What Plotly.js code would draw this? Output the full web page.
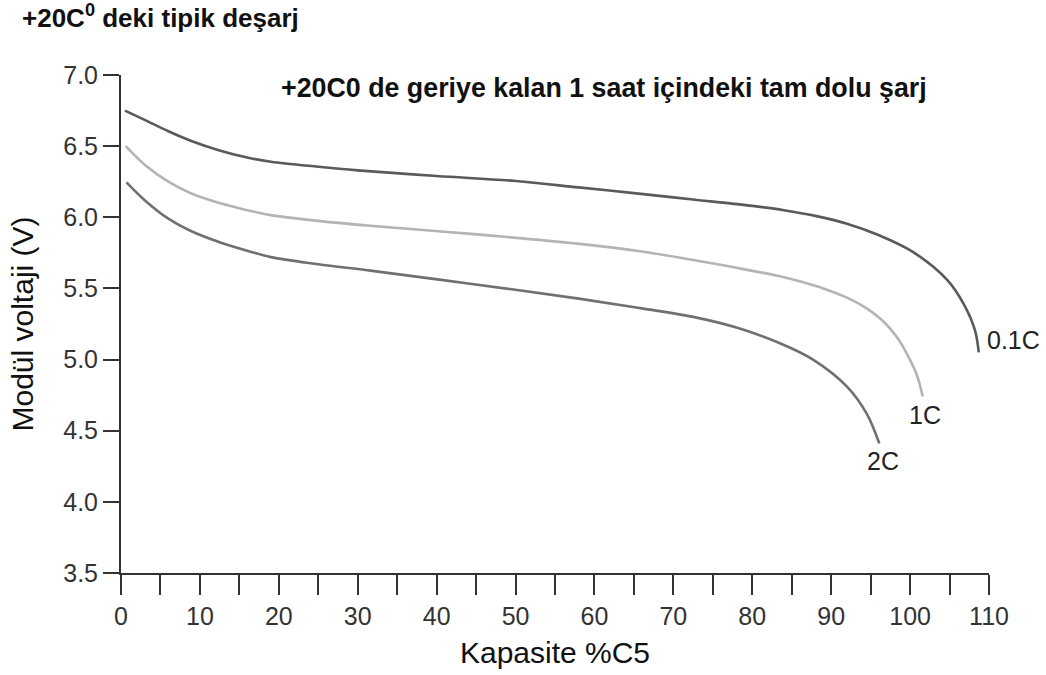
<!DOCTYPE html>
<html>
<head>
<meta charset="utf-8">
<script src="https://cdn.plot.ly/plotly-3.0.1.min.js"></script>
<style>html,body{margin:0;padding:0;background:#fff;}#chart{width:1046px;height:675px;}</style>
</head>
<body>
<div id="chart"></div>
<script>
// Capacity (%C5) and module voltage (V) for each discharge rate
const x01C = [0.5, 3, 6, 9, 12.5, 16, 19, 25, 30, 40, 50, 58, 65, 72.5, 80, 84, 88, 92, 96, 100.4, 104.7, 106.8, 108.2, 108.7];
const y01C = [6.75, 6.685, 6.605, 6.535, 6.47, 6.42, 6.39, 6.355, 6.33, 6.29, 6.255, 6.21, 6.17, 6.125, 6.08, 6.05, 6.01, 5.955, 5.875, 5.755, 5.56, 5.39, 5.21, 5.05];

const x1C = [0.6, 3, 6, 9, 12.5, 16, 19, 25, 31.6, 44, 57.8, 66, 72.5, 78, 83.5, 86, 89, 92, 94.5, 96.5, 98.3, 99.7, 100.8, 101.6];
const y1C = [6.50, 6.37, 6.25, 6.165, 6.10, 6.05, 6.015, 5.975, 5.94, 5.885, 5.815, 5.76, 5.70, 5.645, 5.585, 5.55, 5.50, 5.435, 5.36, 5.275, 5.16, 5.03, 4.90, 4.74];

const x2C = [0.7, 3, 6, 9, 12.5, 16, 19, 25, 31.6, 44, 57.8, 66, 72.5, 78, 83.5, 87.7, 92, 94.5, 96.1];
const y2C = [6.245, 6.12, 5.99, 5.90, 5.825, 5.765, 5.72, 5.67, 5.625, 5.535, 5.43, 5.36, 5.30, 5.225, 5.115, 5.0, 4.81, 4.62, 4.41];

const seriesNames = ['0.1C', '1C', '2C'];
const seriesColors = ['#5a5a5a', '#b4b4b4', '#707070'];
// label anchor positions (data coords) for curve labels
const labelX = [109.5, 101.9, 96.6];
const labelY = [5.14, 4.61, 4.29];

const xTickVals = [0, 10, 20, 30, 40, 50, 60, 70, 80, 90, 100, 110];
const xMinorStep = 5;
const yTickVals = [3.5, 4.0, 4.5, 5.0, 5.5, 6.0, 6.5, 7.0];

const chartTitle = '+20C<sup>0</sup> deki tipik deşarj';
const noteText = '+20C0 de geriye kalan 1 saat içindeki tam dolu şarj';
const xTitle = 'Kapasite %C5';
const yTitle = 'Modül voltaji (V)';

const xs = [x01C, x1C, x2C];
const ys = [y01C, y1C, y2C];

const traces = seriesNames.map((n, i) => ({
  x: xs[i], y: ys[i], name: n, type: 'scatter', mode: 'lines',
  line: {color: seriesColors[i], width: 2.6, shape: 'spline', smoothing: 1},
  hoverinfo: 'x+y+name'
}));

const FONT = '"Liberation Sans", Arial, sans-serif';

const annotations = seriesNames.map((n, i) => ({
  x: labelX[i], y: labelY[i], xref: 'x', yref: 'y',
  text: n, showarrow: false,
  xanchor: i === 0 ? 'left' : 'center', yanchor: 'middle',
  font: {family: FONT, size: 25, color: '#222'}
}));
annotations.push({
  x: (279 - 121) / 868, y: (573 - 88) / 498, xref: 'paper', yref: 'paper',
  text: noteText, showarrow: false, xanchor: 'left', yanchor: 'middle',
  font: {family: FONT, size: 26.8, color: '#111', weight: 'bold'}
});

const layout = {
  width: 1046, height: 675,
  paper_bgcolor: '#fff', plot_bgcolor: '#fff',
  margin: {l: 121, r: 57, t: 75, b: 102, pad: 0},
  showlegend: false,
  font: {family: FONT, color: '#333'},
  title: {
    text: chartTitle, x: 22 / 1046, xref: 'container', xanchor: 'left',
    y: 1 - 18 / 675, yref: 'container', yanchor: 'middle',
    font: {family: FONT, size: 26, color: '#111', weight: 'bold'}
  },
  xaxis: {
    range: [0, 110], tickmode: 'array', tickvals: xTickVals,
    ticks: 'outside', ticklen: 20, tickwidth: 2, tickcolor: '#333',
    minor: {dtick: xMinorStep, tick0: 0, ticks: 'outside', ticklen: 20, tickwidth: 2, tickcolor: '#333', showgrid: false},
    showline: true, linecolor: '#333', linewidth: 2, showgrid: false, zeroline: false,
    tickfont: {family: FONT, size: 25, color: '#333'},
    title: {text: xTitle, font: {family: FONT, size: 30, color: '#111'}, standoff: 13},
    automargin: false, fixedrange: true
  },
  yaxis: {
    range: [3.5, 7.0], tickmode: 'array', tickvals: yTickVals, tickformat: '.1f',
    ticks: 'outside', ticklen: 16, tickwidth: 2, tickcolor: '#333',
    showline: true, linecolor: '#333', linewidth: 2, showgrid: false, zeroline: false,
    tickfont: {family: FONT, size: 25, color: '#333'},
    title: {text: yTitle, font: {family: FONT, size: 30, color: '#111'}, standoff: 21},
    automargin: false, fixedrange: true
  },
  annotations: annotations
};

Plotly.newPlot('chart', traces, layout, {displayModeBar: false, staticPlot: false});
</script>
</body>
</html>
